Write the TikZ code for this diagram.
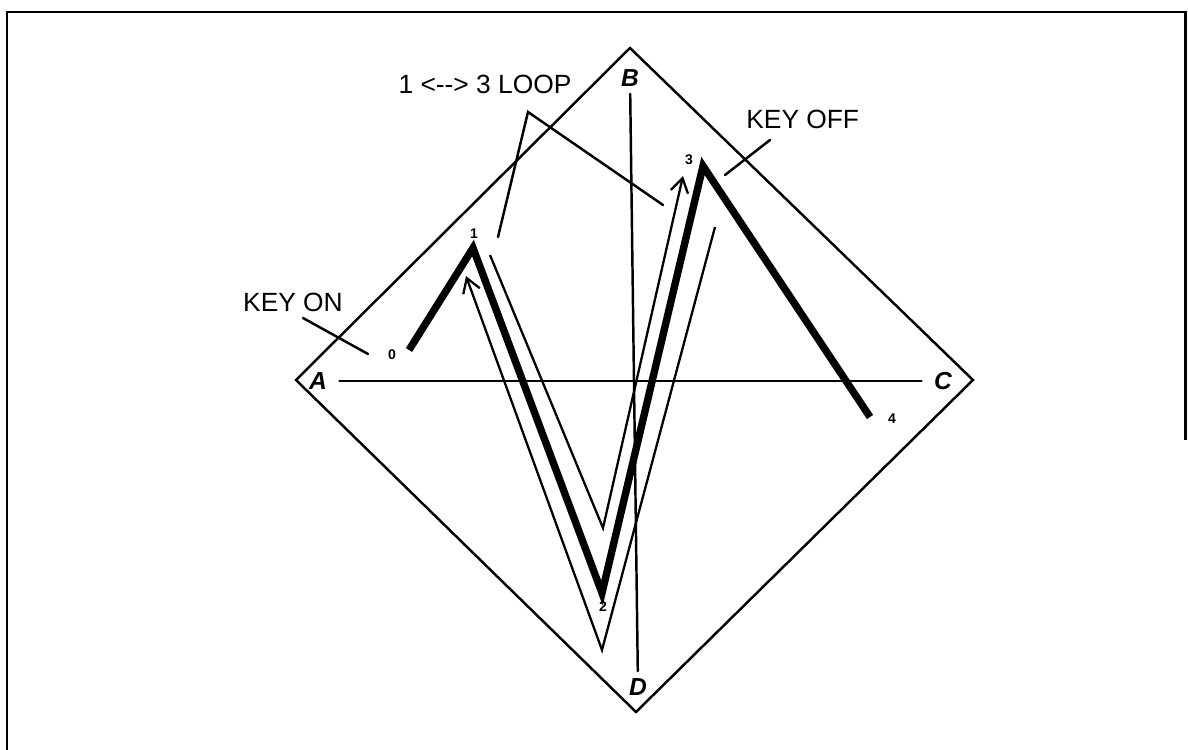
\documentclass[tikz,border=0pt]{standalone}
\usepackage{fontspec}
\setmainfont{Liberation Sans}
\usetikzlibrary{arrows.meta}

\begin{document}
\begin{tikzpicture}[
    x=0.02cm, y=-0.02cm,
    edge/.style={line width=1.4pt, line cap=round},
    trace/.style={line width=4.2pt, line join=miter},
    loopline/.style={line width=1.3pt},
    barb/.style={-{Straight Barb[length=8pt,width=10pt,line width=1.3pt]}},
    corner/.style={font=\bfseries\itshape\fontsize{14}{14}\selectfont, inner sep=0pt},
    point/.style={font=\bfseries\fontsize{8}{8}\selectfont, inner sep=0pt},
    callout/.style={font=\fontsize{15}{15}\selectfont, inner sep=0pt}
]
    \useasboundingbox (0,0) rectangle (1188,750);
    % frame
    \draw[line width=1.7pt] (1185,440) -- (1185,12) -- (7,12) -- (7,750);

    % diamond
    \coordinate (top) at (630,48);
    \coordinate (left) at (296,380);
    \coordinate (right) at (973,380);
    \coordinate (bottom) at (636,712);
    \draw[edge, line join=miter] (top) -- (right) -- (bottom) -- (left) -- cycle;

    \node (A) [corner] at (318,381) {A};
    \node (B) [corner] at (630,78) {B};
    \node (C) [corner] at (943,381) {C};
    \node (D) [corner] at (638,687) {D};
    \draw[edge, shorten <=7pt, shorten >=7pt] (A) -- (C);
    \draw[edge, shorten <=4pt, shorten >=4pt] (B) -- (D);

    % key trace 0-1-2-3-4
    \coordinate (p0) at (409,350);
    \coordinate (p1) at (473,248);
    \coordinate (p2) at (602,593);
    \coordinate (p3) at (703,166);
    \coordinate (p4) at (870,417);
    \draw[trace] (p0) -- (p1) -- (p2) -- (p3) -- (p4);
    \node (n0) [point] at (392,355) {0};
    \node (n1) [point] at (474,234) {1};
    \node (n2) [point] at (603,607) {2};
    \node (n3) [point] at (689,160) {3};
    \node (n4) [point] at (892,419) {4};

    % loop 1 -> 2 -> 3 and back
    \coordinate (inA) at (490,255);
    \coordinate (inV) at (603,528);
    \coordinate (inB) at (683,176);
    \coordinate (outA) at (715,227);
    \coordinate (outV) at (602,650);
    \coordinate (outB) at (466,276);
    \draw[loopline, barb] (inA) -- (inV) -- (inB);
    \draw[loopline, barb] (outA) -- (outV) -- (outB);

    % callouts
    \node (keyon) [callout] at (293,302) {KEY ON};
    \node (loop) [callout] at (485,84) {1 <{-}{-}> 3 LOOP};
    \node (keyoff) [callout, anchor=west] at (746,119) {KEY OFF};
    \coordinate (onA) at (303,318);
    \coordinate (onB) at (368,354);
    \coordinate (lpA) at (498,237);
    \coordinate (lpT) at (528,112);
    \coordinate (lpB) at (663,205);
    \coordinate (offA) at (725,175);
    \coordinate (offB) at (770,140);
    \draw[edge] (onA) -- (onB);
    \draw[edge] (lpA) -- (lpT) -- (lpB);
    \draw[edge] (offA) -- (offB);
\end{tikzpicture}
\end{document}
